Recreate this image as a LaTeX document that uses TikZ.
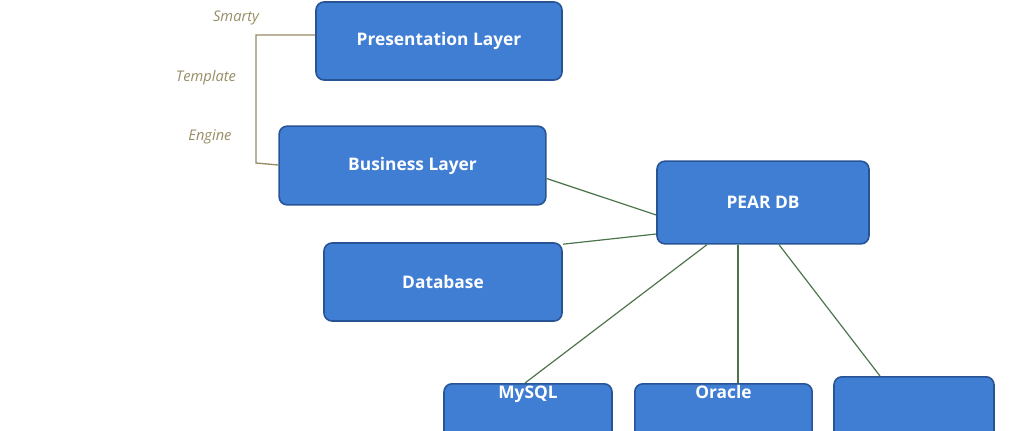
\documentclass[tikz,border=0pt]{standalone}
\usepackage{fontspec}
\setmainfont{Open Sans}
\definecolor{boxblue}{RGB}{64,126,212}
\definecolor{boxedge}{RGB}{40,84,150}
\definecolor{engine}{RGB}{150,140,100}
\tikzset{
  layer/.style={draw=boxedge, line width=1.2pt, fill=boxblue, rounded corners=6pt,
    text=white, font=\bfseries\fontsize{13}{15}\selectfont, inner sep=0pt},
  link/.style={draw=black!60!green!40!gray, line width=0.9pt},
  note/.style={text=engine, font=\itshape\fontsize{11}{13}\selectfont, inner sep=0.75pt}
}
\begin{document}
\begin{tikzpicture}[x=0.75pt,y=0.75pt,yscale=-1]
        \useasboundingbox (0,0) rectangle (1025,430);
        % Boxes
        \node [layer, minimum width=184.5pt, minimum height=58.5pt] (pres) at (439,41) {Presentation Layer};
        \node [layer, minimum width=200pt, minimum height=59pt] (bus) at (412.5,165.5) {Business Layer};
        \node [layer, minimum width=159pt, minimum height=62pt] (pear) at (763,202.5) {PEAR DB};
        \node [layer, minimum width=178.5pt, minimum height=58.5pt] (db) at (443,282) {Database};
        \node [layer, minimum width=126pt, minimum height=60pt, anchor=north] (mysql) at (528,383) {\raisebox{0pt}[0pt][38pt]{MySQL}};
        \node [layer, minimum width=133pt, minimum height=60pt, anchor=north] (oracle) at (723.5,383) {\raisebox{0pt}[0pt][38pt]{Oracle}};
        \node [layer, minimum width=120pt, minimum height=65pt, anchor=north] (other) at (914,376) {};
        % Connectors
        \draw [link] (bus.east) ++(0,13) coordinate (busout) -- (pear.west |- 0,215) coordinate (pearin1);
        \draw [link] (db.north east) ++(0,2) coordinate (dbout) -- (pear.west |- 0,234) coordinate (pearin2);
        \draw [link] (pear.south -| 707,0) -- (mysql.north -| 525,0);
        \draw [link] (pear.south -| 738,0) -- (oracle.north -| 738,0);
        \draw [link] (pear.south -| 779,0) -- (other.north -| 880,0);
        % Smarty bracket
        \draw [engine, line width=1pt] (pres.west |- 0,35) -- (256,35) -- (256,163) -- (bus.west |- 0,165);
        \node [note] (smarty) at (236,18) {Smarty};
        \node [note] (template) at (206,78) {Template};
        \node [note] (engn) at (210,137) {Engine};
\end{tikzpicture}
\end{document}
